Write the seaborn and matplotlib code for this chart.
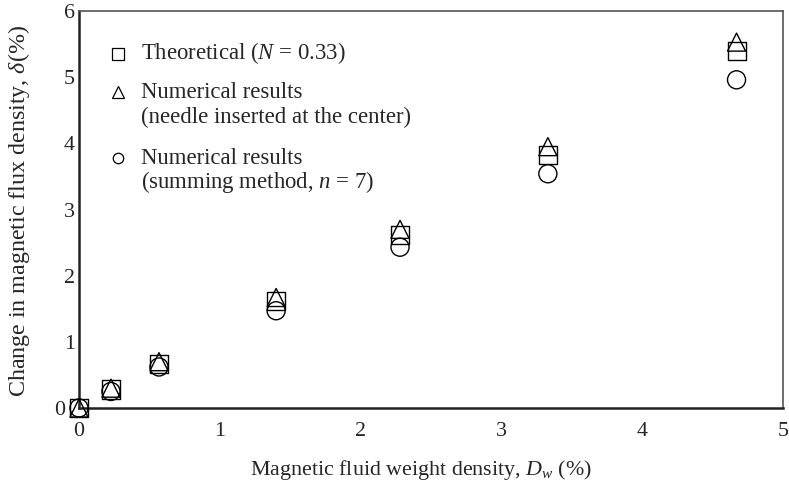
import matplotlib
matplotlib.use("Agg")
import matplotlib.pyplot as plt
import matplotlib.transforms as mtransforms
import seaborn as sns
import pandas as pd

x_vals = [0, 0.227, 0.568, 1.40, 2.28, 3.33, 4.67]
theoretical = [0, 0.28, 0.67, 1.62, 2.62, 3.83, 5.40]
needle = [0, 0.30, 0.70, 1.67, 2.70, 3.95, 5.53]
summing = [0, 0.25, 0.62, 1.47, 2.43, 3.54, 4.96]

series_names = ["Theoretical", "Needle", "Summing"]
x_ticks = [0, 1, 2, 3, 4, 5]
y_ticks = [0, 1, 2, 3, 4, 5, 6]

df = pd.concat([
    pd.DataFrame({"x": x_vals, "y": theoretical, "series": series_names[0]}),
    pd.DataFrame({"x": x_vals, "y": needle, "series": series_names[1]}),
    pd.DataFrame({"x": x_vals, "y": summing, "series": series_names[2]}),
])

sns.set_style("white")
plt.rcParams["font.family"] = ["Liberation Serif", "DejaVu Serif"]
plt.rcParams["mathtext.fontset"] = "custom"
plt.rcParams["mathtext.rm"] = "Liberation Serif"
plt.rcParams["mathtext.it"] = "Liberation Serif:italic"

FS = 15.8
LFS = 16.4
YFS = 17.3
fig = plt.figure(figsize=(7.89, 4.83), dpi=100)
ax = fig.add_axes([79/789, 1 - 408/483, (783-79)/789, (408-11)/483])

markers = {"Theoretical": "s", "Needle": "^", "Summing": "o"}
for name in series_names:
    sub = df[df["series"] == name]
    sns.scatterplot(data=sub, x="x", y="y", ax=ax, marker=markers[name],
                    s=13**2, facecolor="none", edgecolor="black",
                    linewidth=1.0, legend=False, zorder=3, clip_on=False)

ax.set_xlim(0, 5)
ax.set_ylim(0, 6)
ax.set_xticks(x_ticks)
ax.set_yticks(y_ticks)
ax.tick_params(axis="x", length=0, labelsize=FS, pad=10)
ax.tick_params(axis="y", length=0, labelsize=FS, pad=3)
ax.set_xlabel(r"Magnetic fluid weight density, $D_w$ (%)", fontsize=FS)
ax.set_ylabel(r"Change in magnetic flux density, $\delta$(%)", fontsize=YFS)
ax.xaxis.label.set_va("baseline")
ax.xaxis.set_label_coords(0.486, -0.169)
ax.yaxis.label.set_va("center")
ax.yaxis.set_label_coords(-0.085, 0.496)

# the "0" y tick label sits left of the origin marker in the original
lbl0 = ax.get_yticklabels()[0]
lbl0.set_transform(lbl0.get_transform() +
                   mtransforms.ScaledTranslation(-10/100, 0, fig.dpi_scale_trans))

for s in ["left", "bottom"]:
    ax.spines[s].set_color("#222222")
    ax.spines[s].set_linewidth(1.8)
for s in ["top", "right"]:
    ax.spines[s].set_color("#555555")
    ax.spines[s].set_linewidth(1.2)
    ax.spines[s].set_visible(True)

# legend (manual layout to mimic the original)
mx, tx = 0.0561, 0.088
leg_entries = [
    ("s", 8.5, 0.892, [(r"Theoretical ($N$ = 0.33)", 0.879)]),
    ("^", 9.0, 0.796, [("Numerical results", 0.781),
                       ("(needle inserted at the center)", 0.718)]),
    ("o", 7.5, 0.630, [("Numerical results", 0.615),
                       (r"(summing method, $n$ = 7)", 0.554)]),
]
for mk, ms, my, lines in leg_entries:
    ax.plot([mx], [my], marker=mk, ms=ms, mfc="none", mec="black", mew=0.9,
            transform=ax.transAxes, clip_on=False, linestyle="none")
    for txt, ty in lines:
        ax.text(tx, ty, txt, transform=ax.transAxes, fontsize=LFS,
                va="baseline", ha="left")

fig.savefig("out.png", dpi=100)
